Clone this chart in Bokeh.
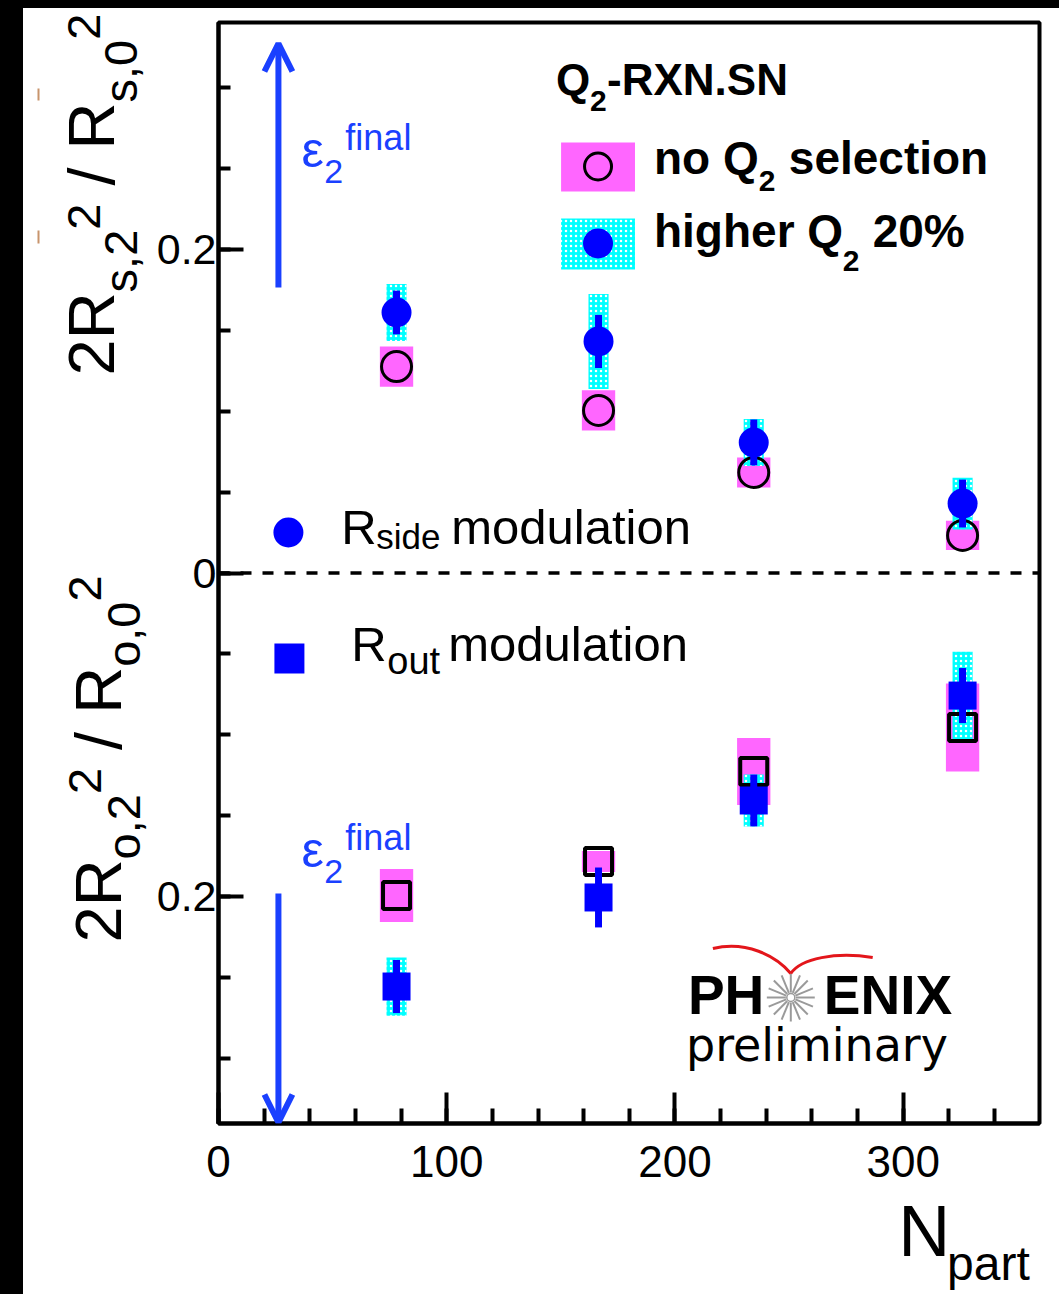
import math
import numpy as np
from bokeh.plotting import figure
from bokeh.models import Range1d, SingleIntervalTicker, Arrow, OpenHead, Span, Spacer, ColumnDataSource
from bokeh.layouts import column, row
from bokeh.core.properties import value
from bokeh.embed import file_html
from bokeh.resources import INLINE

# ---------------------------------------------------------------- data
npart = [78.0, 166.5, 234.5, 326.0]

# R_side modulation (upper half, positive axis)
side_noq2 = [0.1275, 0.1004, 0.0621, 0.0232]
side_noq2_sys = [0.0124, 0.0124, 0.0093, 0.0090]
side_hiq2 = [0.1609, 0.1430, 0.0806, 0.0429]
side_hiq2_stat = [0.0135, 0.0164, 0.0142, 0.0148]
side_hiq2_sys = [0.0176, 0.0293, 0.0145, 0.0160]

# R_out modulation (lower half, drawn downward)
out_noq2 = [-0.1992, -0.1782, -0.1226, -0.0954]
out_noq2_sys = [0.0164, 0.0065, 0.0207, 0.0272]
out_hiq2 = [-0.2554, -0.2004, -0.1405, -0.0757]
out_hiq2_stat = [0.0164, 0.0185, 0.0160, 0.0170]
out_hiq2_sys = [0.0180, 0.0080, 0.0160, 0.0270]

x_ticks_interval = 100
y_tick_labels = {0.2: "0.2", 0: "0", -0.2: "0.2"}

# ---------------------------------------------------------------- styles
PINK = "#ff66ff"
CYAN = "#00ffff"
BLUE = "#0000ff"
ARROW_BLUE = "#1a40ff"
FONT = "Liberation Sans"
BASE_SHIFT = 0.41          # baseline correction, in units of font size

PAGE_W, PAGE_H = 1059, 1294
OFF_X, OFF_Y = 23, 8                 # black strips on the left and top
LABEL_W = 130                        # strip holding the vertical axis titles
MAIN_X0 = OFF_X + LABEL_W            # page x where the main figure starts
MAIN_H = 1184                        # main figure height
BOTTOM_Y0 = OFF_Y + MAIN_H           # page y where the N_part strip starts

FRAME_L, FRAME_R, FRAME_T, FRAME_B = 217, 1039, 22, 1123
X_MAX = 359.7
Y_LIM = 0.34
SX = (FRAME_R - FRAME_L) / X_MAX
SY = (FRAME_B - FRAME_T) / (2 * Y_LIM)
Y0 = (FRAME_T + FRAME_B) / 2.0


def X(px):
    return (px - FRAME_L) / SX


def Y(py):
    return (Y0 - py) / SY


p = figure(width=PAGE_W - MAIN_X0, height=MAIN_H,
           x_range=Range1d(0, X_MAX), y_range=Range1d(-Y_LIM, Y_LIM),
           output_backend="svg", toolbar_location=None, title=None,
           min_border_left=FRAME_L - MAIN_X0, min_border_right=PAGE_W - FRAME_R,
           min_border_top=FRAME_T - OFF_Y, min_border_bottom=OFF_Y + MAIN_H - FRAME_B)
p.background_fill_color = "white"
p.border_fill_color = "white"
p.grid.visible = False
p.outline_line_color = "black"
p.outline_line_width = 4

p.xaxis.ticker = SingleIntervalTicker(interval=x_ticks_interval, num_minor_ticks=5)
p.yaxis.ticker = SingleIntervalTicker(interval=0.2, num_minor_ticks=4)
p.yaxis.major_label_overrides = y_tick_labels
for ax in (p.xaxis[0], p.yaxis[0]):
    ax.axis_line_width = 4
    ax.major_tick_line_width = 4
    ax.minor_tick_line_width = 4
    ax.major_tick_out = 0
    ax.minor_tick_out = 0
    ax.major_label_text_font = FONT
    ax.major_label_text_color = "black"
p.xaxis.major_label_text_font_size = "44px"
p.yaxis.major_label_text_font_size = "43px"
p.xaxis.major_tick_in = 31
p.xaxis.minor_tick_in = 15
p.xaxis.major_label_standoff = 22
p.yaxis.major_tick_in = 25
p.yaxis.minor_tick_in = 12
p.yaxis.major_label_standoff = 2

# zero line separating the two halves
p.add_layout(Span(location=0, dimension="width", line_color="black",
                  line_width=3.5, line_dash="11 11"))

# ---------------------------------------------------------------- data marks
PINK_W = 14.6
CYAN_W = 8.8


def boxes(xs, ys, errs, width, **kw):
    src = ColumnDataSource(dict(x=xs, y=ys, h=[2 * e for e in errs]))
    p.rect(x="x", y="y", width=width, height="h", source=src, line_color=None, **kw)


def stat_bars(xs, ys, errs):
    src = ColumnDataSource(dict(x=xs, y0=[y - e for y, e in zip(ys, errs)],
                                y1=[y + e for y, e in zip(ys, errs)]))
    p.segment(x0="x", y0="y0", x1="x", y1="y1", source=src,
              line_color=BLUE, line_width=7, line_cap="butt")


hatch = dict(fill_color=CYAN, hatch_pattern=".", hatch_color="white",
             hatch_scale=5, hatch_weight=1.6)

boxes(npart, side_noq2, side_noq2_sys, PINK_W, fill_color=PINK)
boxes(npart, out_noq2, out_noq2_sys, PINK_W, fill_color=PINK)
boxes(npart, side_hiq2, side_hiq2_sys, CYAN_W, **hatch)
boxes(npart, out_hiq2, out_hiq2_sys, CYAN_W, **hatch)

p.scatter(npart, side_noq2, marker="circle", size=30, fill_alpha=0,
          line_color="black", line_width=3)
p.scatter(npart, out_noq2, marker="square", size=27, fill_alpha=0,
          line_color="black", line_width=4)

stat_bars(npart, side_hiq2, side_hiq2_stat)
stat_bars(npart, out_hiq2, out_hiq2_stat)
p.scatter(npart, side_hiq2, marker="circle", size=30, fill_color=BLUE, line_color=None)
p.scatter(npart, out_hiq2, marker="square", size=28, fill_color=BLUE, line_color=None)


# ---------------------------------------------------------------- text helpers
def txt(px, py, s, size, bold=False, color="black", font=FONT):
    p.text(x=[X(px)], y=[Y(py - BASE_SHIFT * size)], text=[s], text_font=value(font),
           text_font_size=f"{size}px", text_font_style="bold" if bold else "normal",
           text_color=color, text_baseline="alphabetic", text_align="left")


# ---------------------------------------------------------------- legend
txt(555, 97, "Q", 44, bold=True)
txt(589, 113, "2", 30, bold=True)
txt(606, 97, "-RXN.SN", 44, bold=True)

p.rect([X(597)], [Y(166.5)], width=74 / SX, height=49 / SY, fill_color=PINK, line_color=None)
p.scatter([X(597)], [Y(166)], marker="circle", size=27, fill_alpha=0,
          line_color="black", line_width=3)
txt(653, 176, "no Q", 46, bold=True)
txt(758, 193, "2", 30, bold=True)
txt(788, 176, "selection", 46, bold=True)

p.rect([X(597)], [Y(243.5)], width=74 / SX, height=51 / SY, line_color=None, **hatch)
p.scatter([X(597)], [Y(243)], marker="circle", size=30, fill_color=BLUE, line_color=None)
txt(653, 249, "higher Q", 46, bold=True)
txt(842, 273, "2", 30, bold=True)
txt(872, 249, "20%", 46, bold=True)

p.scatter([X(287)], [Y(532)], marker="circle", size=30, fill_color=BLUE, line_color=None)
txt(340, 547, "R", 49)
txt(375, 550, "side", 35)
txt(450, 547, "modulation", 49)

p.scatter([X(288)], [Y(658)], marker="square", size=30, fill_color=BLUE, line_color=None)
txt(350, 664, "R", 49)
txt(386, 676, "out", 38)
txt(447, 664, "modulation", 49)

# ---------------------------------------------------------------- eccentricity arrows
for tip, base in ((43, 287), (1122, 893)):
    p.add_layout(Arrow(end=OpenHead(size=28, line_color=ARROW_BLUE, line_width=6),
                       x_start=X(277), y_start=Y(base), x_end=X(277), y_end=Y(tip),
                       line_color=ARROW_BLUE, line_width=6))

for dy in (0, 700):
    txt(300, 170 + dy, "ε", 50, color=ARROW_BLUE)
    txt(323, 185 + dy, "2", 34, color=ARROW_BLUE)
    txt(344, 152 + dy, "final", 36, color=ARROW_BLUE)

# ---------------------------------------------------------------- PHENIX preliminary
txt(687, 1017, "PH", 55, bold=True)
txt(823, 1017, "ENIX", 55, bold=True)
ang = np.linspace(0, 2 * np.pi, 16, endpoint=False)
cx, cy = 790, 997
p.segment(x0=[X(cx + 5 * math.cos(a)) for a in ang], y0=[Y(cy + 5 * math.sin(a)) for a in ang],
          x1=[X(cx + 24 * math.cos(a)) for a in ang], y1=[Y(cy + 24 * math.sin(a)) for a in ang],
          line_color="#9a9a9a", line_width=2)
p.scatter([X(cx)], [Y(cy)], marker="circle", size=8, fill_color="white",
          line_color="#9a9a9a", line_width=1.5)
p.bezier(x0=[X(712), X(790)], y0=[Y(948), Y(973)], x1=[X(790), X(872)], y1=[Y(973), Y(957)],
         cx0=[X(745), X(800)], cy0=[Y(940), Y(958)], cx1=[X(775), X(835)], cy1=[Y(955), Y(951)],
         line_color="#e3161b", line_width=3)
txt(685, 1063, "preliminary", 46, font="DejaVu Sans")


# ---------------------------------------------------------------- axis titles
def blank(width, height):
    f = figure(width=width, height=height, x_range=Range1d(0, width),
               y_range=Range1d(height, 0), output_backend="svg", toolbar_location=None,
               title=None, x_axis_location=None, y_axis_location=None,
               min_border=0, min_border_left=0, min_border_right=0,
               min_border_top=0, min_border_bottom=0)
    f.grid.visible = False
    f.outline_line_color = None
    f.background_fill_color = "white"
    f.border_fill_color = "white"
    return f


ytitle = blank(LABEL_W, PAGE_H - OFF_Y)
xtitle = blank(PAGE_W - MAIN_X0, PAGE_H - BOTTOM_Y0)

# faint marks left of the vertical titles
ytitle.segment(x0=[38 - OFF_X, 38 - OFF_X], y0=[88 - OFF_Y, 230 - OFF_Y],
               x1=[38 - OFF_X, 38 - OFF_X], y1=[100 - OFF_Y, 243 - OFF_Y],
               line_color="#c8946c", line_width=2)

ADV = {"2": .556, "0": .556, "R": .722, "s": .5, "o": .556, ",": .278, "/": .278}


def adv(s, size):
    return sum(ADV[c] for c in s) * size


def vtext(px, py, s, size):
    ytitle.text(x=[px - OFF_X - BASE_SHIFT * size], y=[py - OFF_Y], text=[s],
                text_font=value(FONT), text_font_size=f"{size}px", angle=math.pi / 2,
                text_color="black", text_baseline="alphabetic", text_align="left")


def vertical_label(start_y, base_x, sub_x, sup_x, letter):
    main, small = 65, 47
    space = 0.278 * main
    pieces = [("2R", main, base_x, 0), (letter + ",2", small, sub_x, 0),
              ("2", small, sup_x, 0), ("/", main, base_x, space),
              ("R", main, base_x, space), (letter + ",0", small, sub_x, 0),
              ("2", small, sup_x, 0)]
    y = start_y
    for s, size, bx, gap in pieces:
        y -= gap
        vtext(bx, y, s, size)
        y -= adv(s, size)


vertical_label(375, 118, 139, 103, "s")
vertical_label(942, 125, 142, 104, "o")


def htext(px, py, s, size):
    xtitle.text(x=[px - MAIN_X0], y=[py - BOTTOM_Y0 - BASE_SHIFT * size], text=[s],
                text_font=value(FONT), text_font_size=f"{size}px",
                text_color="black", text_baseline="alphabetic", text_align="left")


htext(903, 1260, "N", 72)
htext(957, 1283, "part", 48)

# ---------------------------------------------------------------- page
top_strip = Spacer(width=PAGE_W, height=OFF_Y, styles={"background-color": "black"})
left_strip = Spacer(width=OFF_X, height=PAGE_H - OFF_Y, styles={"background-color": "black"})
page = column(top_strip,
              row(left_strip, ytitle, column(p, xtitle, spacing=0), spacing=0),
              spacing=0)

open("out.html", "w").write(file_html(page, INLINE))
